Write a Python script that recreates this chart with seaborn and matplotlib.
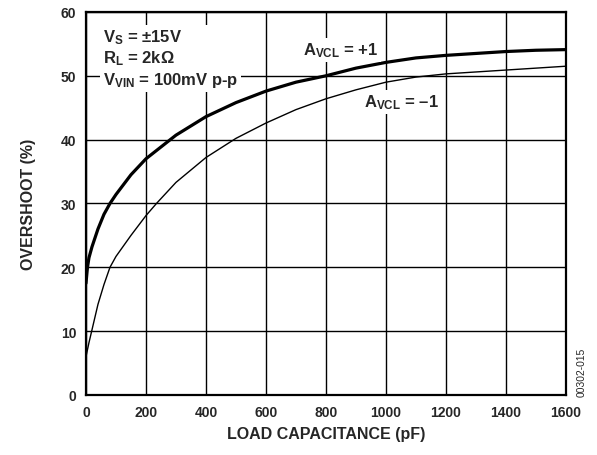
import numpy as np
import pandas as pd
import matplotlib
matplotlib.use("Agg")
import matplotlib.pyplot as plt
import seaborn as sns

# values
capPlus = [0, 5, 10, 20, 40, 60, 80, 100, 150, 200, 300, 400, 500, 600, 700,
           800, 900, 1000, 1100, 1200, 1300, 1400, 1500, 1600]
overPlus = [17.5, 20, 21.5, 23.2, 26, 28.3, 30, 31.4, 34.5, 37, 40.7, 43.6, 45.8,
            47.6, 49.0, 50, 51.2, 52.1, 52.8, 53.2, 53.5, 53.8, 54, 54.1]
capMinus = [0, 10, 20, 40, 60, 80, 100, 150, 200, 235, 300, 400, 500, 600, 700,
            800, 900, 1000, 1100, 1200, 1300, 1400, 1500, 1600]
overMinus = [6, 8.2, 10.2, 14.2, 17.3, 20, 21.7, 25, 28.1, 30, 33.3, 37.2, 40.2,
             42.6, 44.7, 46.4, 47.8, 49, 49.8, 50.3, 50.6, 50.9, 51.2, 51.5]
xTicks = [0, 200, 400, 600, 800, 1000, 1200, 1400, 1600]
yTicks = [0, 10, 20, 30, 40, 50, 60]

capLabel = "LOAD CAPACITANCE (pF)"
overLabel = "OVERSHOOT (%)"
gainLabel = "gain"

curves = pd.concat([
    pd.DataFrame({capLabel: capPlus, overLabel: overPlus, gainLabel: "+1"}),
    pd.DataFrame({capLabel: capMinus, overLabel: overMinus, gainLabel: "-1"}),
])

sns.set_style("white")
plt.rcParams["font.family"] = ["Liberation Sans", "DejaVu Sans"]
plt.rcParams["font.weight"] = "bold"
plt.rcParams["mathtext.fontset"] = "custom"
plt.rcParams["mathtext.rm"] = "Liberation Sans:bold"
plt.rcParams["mathtext.it"] = "Liberation Sans:bold"
plt.rcParams["mathtext.bf"] = "Liberation Sans:bold"
plt.rcParams["mathtext.default"] = "rm"

fig = plt.figure(figsize=(5.97, 4.56), dpi=100)
ax = fig.add_axes([0.144, 0.1316, 0.804, 0.84])

ax.set_xticks(xTicks)
ax.set_yticks(yTicks)
ax.grid(True, color="black", linewidth=1.0)
ax.set_axisbelow(True)

sns.lineplot(data=curves, x=capLabel, y=overLabel, hue=gainLabel, size=gainLabel,
             sizes={"+1": 2.3, "-1": 1.0}, palette={"+1": "black", "-1": "black"},
             legend=False, ax=ax, zorder=3)

ax.set_xlim(0, 1600)
ax.set_ylim(0, 60)
for s in ax.spines.values():
    s.set_color("black")
    s.set_linewidth(1.6)
    s.set_zorder(5)
ax.tick_params(length=0, labelsize=10, pad=7)
for lab in ax.get_xticklabels() + ax.get_yticklabels():
    lab.set_fontweight("bold")
ax.set_xlabel(capLabel, fontsize=11.5, fontweight="bold", labelpad=5)
ax.set_ylabel(overLabel, fontsize=11.5, fontweight="bold", labelpad=18)

box = dict(facecolor="white", edgecolor="none", pad=2)
ax.text(57, 48.7, "V$_S$ = ±15V\nR$_L$ = 2kΩ\nV$_{VIN}$ = 100mV p-p",
        fontsize=12, fontweight="bold", va="baseline", ha="left",
        linespacing=1.2, bbox=box, zorder=4, ma="left")
ax.text(723, 53.3, "A$_{VCL}$ = +1", fontsize=12, fontweight="bold",
        va="baseline", ha="left", bbox=box, zorder=4)
ax.text(927, 45.2, "A$_{VCL}$ = –1", fontsize=12, fontweight="bold",
        va="baseline", ha="left", bbox=box, zorder=4)

fig.text(0.975, 0.184, "00302-015", rotation=90, fontsize=7.4, fontweight="normal",
         ha="center", va="center")

fig.savefig("out.png", dpi=100)
